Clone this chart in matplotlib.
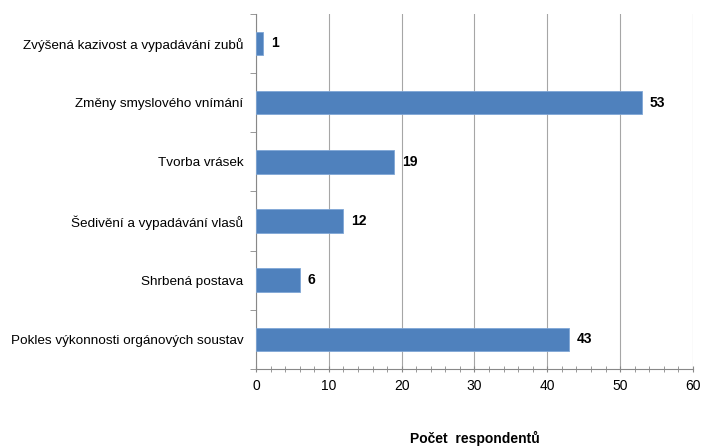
import matplotlib
matplotlib.use("Agg")
import matplotlib.pyplot as plt
from matplotlib.ticker import MultipleLocator

categories = [
    "Zvýšená kazivost a vypadávání zubů",
    "Změny smyslového vnímání",
    "Tvorba vrásek",
    "Šedivění a vypadávání vlasů",
    "Shrbená postava",
    "Pokles výkonnosti orgánových soustav",
]
values = [1, 53, 19, 12, 6, 43]

plt.rcParams['font.family'] = ['Liberation Sans', 'DejaVu Sans']

fig = plt.figure(figsize=(7.04, 4.47), dpi=100)
ax = fig.add_axes([0.3636, 0.1745, 0.6207, 0.7945])

y = list(range(len(categories)))
ax.barh(y, values, height=0.4, color='#4f81bd', edgecolor='#7fa6d6', linewidth=0.6, zorder=3)
ax.set_ylim(len(categories) - 0.5, -0.5)
ax.set_xlim(0, 60)
ax.set_yticks(y)
ax.set_yticklabels(categories, fontsize=9.7)
ax.tick_params(axis='y', which='major', length=0, pad=9)
ax.set_yticks([i + 0.5 for i in range(-1, len(categories))], minor=True)
ax.tick_params(axis='y', which='minor', length=4, color='#888888', direction='out')

ax.xaxis.set_major_locator(MultipleLocator(10))
ax.xaxis.set_minor_locator(MultipleLocator(2))
ax.tick_params(axis='x', which='major', length=5, color='#888888', direction='inout', labelsize=10, pad=5)
ax.tick_params(axis='x', which='minor', length=5, color='#888888', direction='inout')
ax.grid(axis='x', which='major', color='#a6a6a6', linewidth=0.8, zorder=0)

for s in ['top', 'right']:
    ax.spines[s].set_visible(False)
for s in ['left', 'bottom']:
    ax.spines[s].set_color('#888888')

for yi, v in zip(y, values):
    ax.text(v + 1.1, yi, str(v), va='center', ha='left', fontsize=10, fontweight='bold')

fig.text(0.674, 0.003, "Počet  respondentů", ha='center', va='bottom', fontsize=10, fontweight='bold')

fig.savefig("out.png", dpi=100)
